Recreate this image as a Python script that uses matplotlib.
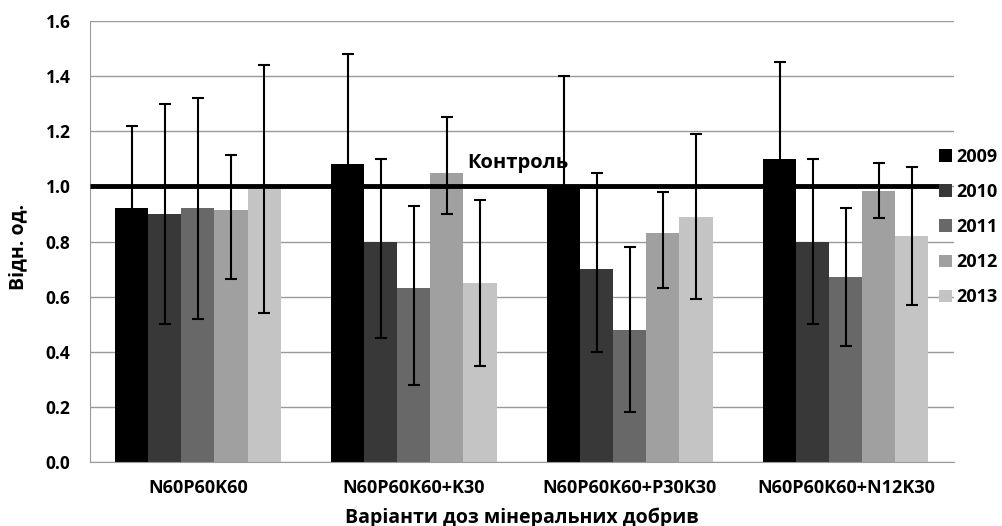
import numpy as np
import matplotlib
matplotlib.use("Agg")
import matplotlib.pyplot as plt

plt.rcParams['font.family'] = ['Open Sans', 'DejaVu Sans']

categories = ['N60P60K60', 'N60P60K60+K30', 'N60P60K60+P30K30', 'N60P60K60+N12K30']
years = ['2009', '2010', '2011', '2012', '2013']
colors = ['#000000', '#383838', '#686868', '#a0a0a0', '#c4c4c4']

# bar heights, one list per year (values per category)
values = {
    '2009': [0.92, 1.08, 1.00, 1.10],
    '2010': [0.90, 0.80, 0.70, 0.80],
    '2011': [0.92, 0.63, 0.48, 0.67],
    '2012': [0.915, 1.05, 0.83, 0.985],
    '2013': [0.99, 0.65, 0.89, 0.82],
}
# error bar sizes: below / above the bar top
err_low = {
    '2009': [0.30, 0.40, 0.40, 0.35],
    '2010': [0.40, 0.35, 0.30, 0.30],
    '2011': [0.40, 0.35, 0.30, 0.25],
    '2012': [0.25, 0.15, 0.20, 0.10],
    '2013': [0.45, 0.30, 0.30, 0.25],
}
err_high = {
    '2009': [0.30, 0.40, 0.40, 0.35],
    '2010': [0.40, 0.30, 0.35, 0.30],
    '2011': [0.40, 0.30, 0.30, 0.25],
    '2012': [0.20, 0.20, 0.15, 0.10],
    '2013': [0.45, 0.30, 0.30, 0.25],
}
control_value = 1.0

fig = plt.figure(figsize=(10.03, 5.26), dpi=100)
ax = fig.add_axes([0.0897, 0.1217, 0.8613, 0.8383])

x = np.arange(len(categories)) + 0.5
width = 0.153
handles = []
for i, yr in enumerate(years):
    pos = x + (i - 2) * width
    h = ax.bar(pos, values[yr], width, color=colors[i], zorder=2, label=yr)
    handles.append(h)
    ax.errorbar(pos, values[yr], yerr=[err_low[yr], err_high[yr]], fmt='none',
                ecolor='black', elinewidth=1.5, capsize=4, capthick=1.5, zorder=3)

ax.plot([0, 3.945], [control_value, control_value], color='black', lw=3.5,
        zorder=4, solid_capstyle='butt')
ax.text(1.748, 1.085, 'Контроль', fontsize=14.5, fontweight='bold', ha='left',
        va='center', zorder=5)

ax.set_xlim(0, 4)
ax.set_ylim(0, 1.6)
ax.set_yticks(np.arange(0, 1.61, 0.2))
ax.set_yticklabels(['%.1f' % v for v in np.arange(0, 1.61, 0.2)],
                   fontsize=12.5, fontweight='bold')
ax.set_xticks(x)
ax.set_xticklabels(categories, fontsize=13, fontweight='bold')
ax.tick_params(axis='both', length=0)
ax.tick_params(axis='y', pad=14)
ax.tick_params(axis='x', pad=12)
ax.yaxis.grid(True, color='#9a9a9a', lw=1, zorder=0)
ax.set_axisbelow(True)
for s in ['top', 'right']:
    ax.spines[s].set_visible(False)
ax.spines['left'].set_color('#9a9a9a')
ax.spines['bottom'].set_color('#9a9a9a')

fig.text(18 / 1003, 1 - 247 / 526, 'Відн. од.', fontsize=14, fontweight='bold',
         rotation=90, ha='center', va='center')
fig.text(522 / 1003, 3 / 526, 'Варіанти доз мінеральних добрив', fontsize=14,
         fontweight='bold', ha='center', va='baseline')

fig.legend(handles=handles, labels=years, loc='upper left',
           bbox_to_anchor=(0.92, 0.75), frameon=False,
           handlelength=0.7, handleheight=0.7, handletextpad=0.25,
           labelspacing=0.95, prop={'weight': 'bold', 'size': 13})

fig.savefig('out.png', dpi=100)
